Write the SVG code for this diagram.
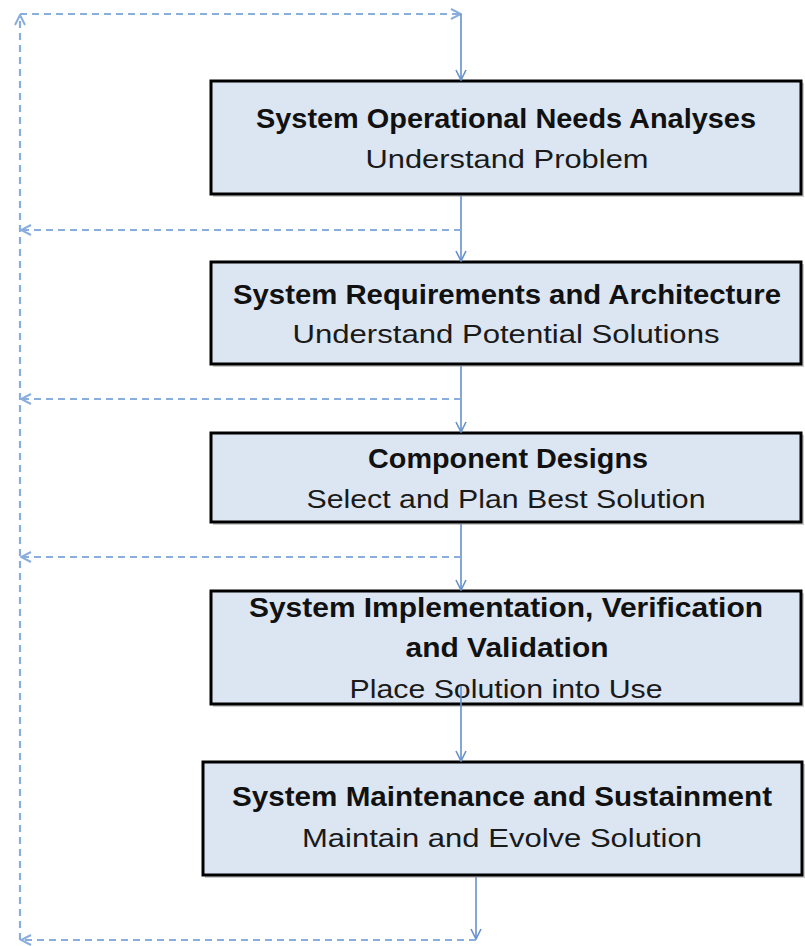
<svg xmlns="http://www.w3.org/2000/svg" width="805" height="946" viewBox="0 0 805 946">
<style>
.box{fill:#dce6f2;stroke:#000;stroke-width:3}
.shadow{fill:#9a9a9a;opacity:0.5}
.t{font-family:"Liberation Sans",Arial,sans-serif;font-size:25.5px;fill:#1a1a1a;text-anchor:middle}
.b{font-weight:bold;font-size:27.5px;fill:#111}
.solid{fill:none;stroke:#6690cc;stroke-width:1.6}
.dash{fill:none;stroke:#89addc;stroke-width:2.2;stroke-dasharray:7 5}
</style>
<defs>
<marker id="ah" viewBox="0 0 12 12" refX="11" refY="6" markerWidth="12" markerHeight="12" markerUnits="userSpaceOnUse" orient="auto">
<path d="M1,1 L11,6 L1,11" fill="none" stroke="#6690cc" stroke-width="1.6"/>
</marker>
<marker id="ahd" viewBox="0 0 12 12" refX="11" refY="6" markerWidth="12" markerHeight="12" markerUnits="userSpaceOnUse" orient="auto">
<path d="M1,1 L11,6 L1,11" fill="none" stroke="#89addc" stroke-width="2"/>
</marker>
</defs>
<g id="n1">
<rect class="shadow" x="213" y="83" width="591" height="114"/>
<rect class="box" x="211" y="81" width="590" height="113"/>
<text class="t b" x="506" y="128" textLength="500" lengthAdjust="spacingAndGlyphs">System Operational Needs Analyses</text>
<text class="t" x="507" y="168" textLength="283" lengthAdjust="spacingAndGlyphs">Understand Problem</text>
</g>
<g id="n2">
<rect class="shadow" x="213" y="264" width="591" height="103"/>
<rect class="box" x="211" y="262" width="590" height="102"/>
<text class="t b" x="507" y="304" textLength="548" lengthAdjust="spacingAndGlyphs">System Requirements and Architecture</text>
<text class="t" x="506" y="343" textLength="427" lengthAdjust="spacingAndGlyphs">Understand Potential Solutions</text>
</g>
<g id="n3">
<rect class="shadow" x="213" y="435" width="591" height="90"/>
<rect class="box" x="211" y="433" width="590" height="89"/>
<text class="t b" x="508" y="468" textLength="280" lengthAdjust="spacingAndGlyphs">Component Designs</text>
<text class="t" x="506" y="508" textLength="399" lengthAdjust="spacingAndGlyphs">Select and Plan Best Solution</text>
</g>
<g id="n4">
<rect class="shadow" x="213" y="593" width="591" height="114"/>
<rect class="box" x="211" y="591" width="590" height="113"/>
<text class="t b" x="506" y="617" textLength="514" lengthAdjust="spacingAndGlyphs">System Implementation, Verification</text>
<text class="t b" x="507" y="657" textLength="203" lengthAdjust="spacingAndGlyphs">and Validation</text>
<text class="t" x="506" y="698" textLength="313" lengthAdjust="spacingAndGlyphs">Place Solution into Use</text>
</g>
<g id="n5">
<rect class="shadow" x="205" y="764" width="600" height="114"/>
<rect class="box" x="203" y="762" width="599" height="113"/>
<text class="t b" x="502" y="806" textLength="540" lengthAdjust="spacingAndGlyphs">System Maintenance and Sustainment</text>
<text class="t" x="502" y="847" textLength="400" lengthAdjust="spacingAndGlyphs">Maintain and Evolve Solution</text>
</g>
<g id="connectors">
<path class="dash" d="M20,940 L20,15" marker-end="url(#ahd)"/>
<path class="dash" d="M20,14 L461,14" marker-end="url(#ahd)"/>
<path class="solid" d="M461,14 L461,80" marker-end="url(#ah)"/>
<path class="solid" d="M461,196 L461,261" marker-end="url(#ah)"/>
<path class="dash" d="M461,230 L21,230" marker-end="url(#ahd)"/>
<path class="solid" d="M461,366 L461,432" marker-end="url(#ah)"/>
<path class="dash" d="M461,399 L21,399" marker-end="url(#ahd)"/>
<path class="solid" d="M461,524 L461,590" marker-end="url(#ah)"/>
<path class="dash" d="M461,557 L21,557" marker-end="url(#ahd)"/>
<path class="solid" d="M461,686 L461,761" marker-end="url(#ah)"/>
<path class="solid" d="M476,877 L476,939" marker-end="url(#ah)"/>
<path class="dash" d="M476,940 L21,940" marker-end="url(#ahd)"/>
</g>
</svg>
